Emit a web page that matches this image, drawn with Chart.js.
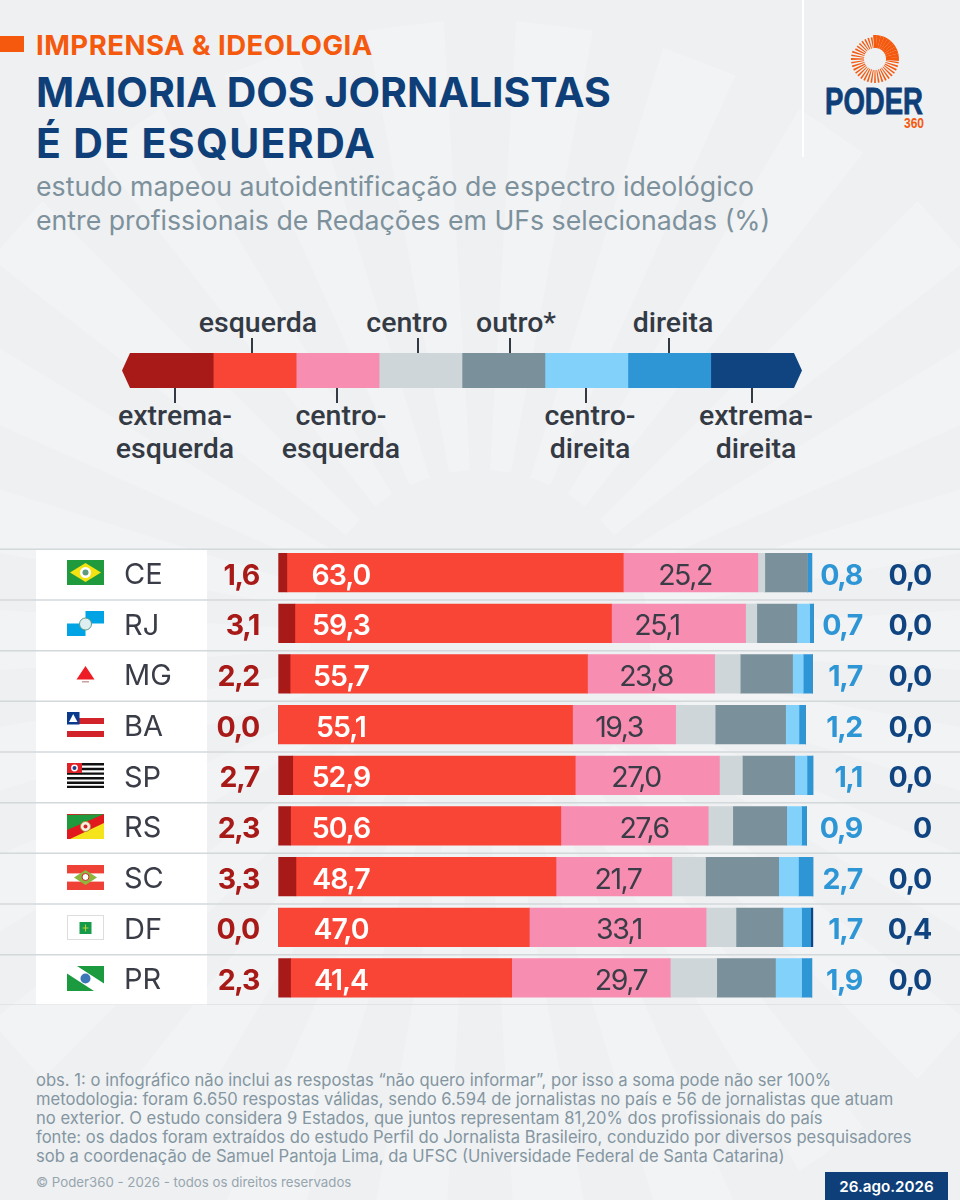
<!DOCTYPE html>
<html lang="pt-BR">
<head>
<meta charset="utf-8">
<title>Maioria dos jornalistas é de esquerda</title>
<script src="https://cdn.jsdelivr.net/npm/chart.js@4"></script>
<style>
  html, body { margin: 0; padding: 0; }
  body { width: 960px; height: 1200px; position: relative; overflow: hidden; background: #eef0f2; font-family: Inter, sans-serif; }
  .abs { position: absolute; white-space: nowrap; }
  #sun { position: absolute; left: 0; top: 0; }
  #tab { position: absolute; left: 0; top: 36px; width: 24px; height: 16px; background: #f4590e; }
  #kicker { left: 36px; top: 28px; font-size: 27.5px; font-weight: 700; letter-spacing: .5px; color: #f4590e; line-height: 34px; }
  h1 { position: absolute; left: 36px; top: 67px; margin: 0; font-size: 41px; line-height: 51px; font-weight: 700; color: #0f3f78; white-space: nowrap; }
  h1 span { letter-spacing: 1.35px; }
  #sub { left: 36px; top: 169px; font-size: 26.7px; line-height: 34px; color: #7d919c; }
  #rule { position: absolute; left: 802px; top: 0; width: 2px; height: 157px; background: #fff; }
  #logo { position: absolute; left: 815px; top: 30px; }
  #legendChart { position: absolute; left: 122px; top: 353px; width: 680px; height: 35px; clip-path: polygon(8px 0, 672px 0, 680px 50%, 672px 100%, 8px 100%, 0 50%); }
  .lg { position: absolute; transform: translateX(-50%); text-align: center; font-family: Roboto, sans-serif; font-weight: 500; font-size: 28.5px; line-height: 33px; color: #343a44; white-space: nowrap; }
  .tick { position: absolute; width: 2px; height: 15px; background: #343a44; }
  #barWrap { position: absolute; left: 0; top: 547px; width: 960px; height: 458px; }
  .flag { position: absolute; left: 67px; width: 37px; height: 25px; }
  #notes { left: 36px; top: 1071px; font-size: 16.6px; line-height: 19px; color: #8496a1; }
  #copy { left: 36px; top: 1174px; font-size: 13.25px; line-height: 16px; color: #97a5ae; }
  #date { position: absolute; left: 825px; top: 1172px; width: 123px; height: 28px; background: #0f3f78; color: #fff; font-size: 15.2px; font-weight: 600; line-height: 30px; text-align: center; }
</style>
</head>
<body>
<svg id="sun" width="960" height="1200"></svg>
<div id="tab"></div>
<div id="kicker" class="abs">IMPRENSA &amp; IDEOLOGIA</div>
<h1>MAIORIA DOS JORNALISTAS<br><span>É DE ESQUERDA</span></h1>
<div id="sub" class="abs">estudo mapeou autoidentificação de espectro ideológico<br>entre profissionais de Redações em UFs selecionadas (%)</div>
<div id="rule"></div>
<svg id="logo" width="120" height="104"></svg>

<canvas id="legendChart" width="680" height="35"></canvas>
<div id="legendText"></div>

<div id="barWrap"><canvas id="barChart"></canvas></div>
<div id="flags"></div>

<div id="notes" class="abs">obs. 1: o infográfico não inclui as respostas “não quero informar”, por isso a soma pode não ser 100%<br>metodologia: foram 6.650 respostas válidas, sendo 6.594 de jornalistas no país e 56 de jornalistas que atuam<br>no exterior. O estudo considera 9 Estados, que juntos representam 81,20% dos profissionais do país<br>fonte: os dados foram extraídos do estudo Perfil do Jornalista Brasileiro, conduzido por diversos pesquisadores<br>sob a coordenação de Samuel Pantoja Lima, da UFSC (Universidade Federal de Santa Catarina)</div>
<div id="copy" class="abs">© Poder360 - 2026 - todos os direitos reservados</div>
<div id="date">26.ago.2026</div>

<script>
const states = ['CE', 'RJ', 'MG', 'BA', 'SP', 'RS', 'SC', 'DF', 'PR']
const extremaEsquerda = [1.6, 3.1, 2.2, 0, 2.7, 2.3, 3.3, 0, 2.3]
const esquerda = [63.0, 59.3, 55.7, 55.1, 52.9, 50.6, 48.7, 47.0, 41.4]
const centroEsquerda = [25.2, 25.1, 23.8, 19.3, 27.0, 27.6, 21.7, 33.1, 29.7]
const centro = [1.3, 2.1, 4.8, 7.4, 4.3, 4.6, 6.3, 5.6, 8.7]
const outro = [8.0, 7.5, 9.8, 13.2, 9.8, 10.1, 13.7, 8.8, 11.0]
const centroDireita = [0, 2.4, 2.0, 2.5, 2.3, 2.8, 3.7, 3.5, 4.9]
const direita = [0.8, 0.7, 1.7, 1.2, 1.1, 0.9, 2.7, 1.7, 1.9]
const extremaDireita = [0, 0, 0, 0, 0, 0, 0, 0.4, 0]
const extremaDireitaLabels = ['0,0', '0,0', '0,0', '0,0', '0,0', '0', '0,0', '0,4', '0,0']

const spectrum = ['extrema-esquerda', 'esquerda', 'centro-esquerda', 'centro', 'outro*', 'centro-direita', 'direita', 'extrema-direita']
const spectrumSpan = [1.1, 1, 1, 1, 1, 1, 1, 1.1]
const colors = ['#a81a17', '#f94536', '#f78db0', '#cfd6d9', '#7a919c', '#82d1fb', '#2f96d6', '#0f4480']

const fmt = v => v.toFixed(1).replace('.', ',')

// sunburst watermark behind everything
const svgNS = 'http://www.w3.org/2000/svg'
const wedge = (cx, cy, r0, r1, a, w, fill) => {
  const p = document.createElementNS(svgNS, 'path')
  const pt = (r, t) => (cx + r * Math.cos(t)).toFixed(1) + ' ' + (cy + r * Math.sin(t)).toFixed(1)
  p.setAttribute('d', 'M' + pt(r0, a - w / 2) + 'L' + pt(r1, a - w / 2) + 'L' + pt(r1, a + w / 2) + 'L' + pt(r0, a + w / 2) + 'Z')
  p.setAttribute('fill', fill)
  return p
}
const sun = document.getElementById('sun')
for (let i = 0; i < 26; i++) {
  const a = i / 26 * Math.PI * 2
  sun.appendChild(wedge(480, 640, 170, 620, a, 0.125, 'rgba(255,255,255,.2)'))
}

// logo
const logo = document.getElementById('logo')
for (let i = 0; i < 40; i++) {
  const a = i / 40 * Math.PI * 2 - Math.PI / 2
  const full = i < 11
  const r1 = i >= 33 ? 22 : 24
  logo.appendChild(wedge(60, 29, 11, r1, a, full ? 0.16 : 0.075, '#f4590e'))
}
logo.insertAdjacentHTML('beforeend',
  '<text x="10" y="84" textLength="98" lengthAdjust="spacingAndGlyphs" font-family="Liberation Sans Narrow, Liberation Sans" font-weight="700" font-size="36" fill="#0f3f78" stroke="#0f3f78" stroke-width=".8">PODER</text>' +
  '<text x="89" y="98" textLength="20" lengthAdjust="spacingAndGlyphs" font-family="Liberation Sans Narrow, Liberation Sans" font-weight="700" font-size="14" fill="#f4590e">360</text>')

// legend labels
const legendItems = [
  ['esquerda', 258, 306, 252, 338],
  ['centro', 407, 306, 418, 338],
  ['outro*', 516, 306, 510, 338],
  ['direita', 673, 306, 669, 338],
  ['extrema-<br>esquerda', 175, 399, 175, 388],
  ['centro-<br>esquerda', 341, 399, 337, 388],
  ['centro-<br>direita', 590, 399, 586, 388],
  ['extrema-<br>direita', 756, 399, 752, 388]
]
document.getElementById('legendText').innerHTML = legendItems.map(([t, x, y, tx, ty]) =>
  `<div class="lg" style="left:${x}px;top:${y}px">${t}</div><div class="tick" style="left:${tx - 1}px;top:${ty}px"></div>`).join('')

new Chart(document.getElementById('legendChart'), { // eslint-disable-line
  type: 'bar',
  data: {
    labels: ['espectro'],
    datasets: spectrum.map((name, i) => ({ label: name, data: [spectrumSpan[i]], backgroundColor: colors[i], barPercentage: 1, categoryPercentage: 1 }))
  },
  options: {
    indexAxis: 'y',
    responsive: false,
    animation: false,
    events: [],
    plugins: { legend: { display: false }, tooltip: { enabled: false } },
    scales: {
      x: { display: false, stacked: true, min: 0, max: 8.2 },
      y: { display: false, stacked: true }
    }
  }
})

// flags
const flagSvg = {
  CE: '<rect width="37" height="25" fill="#1f9a3c"/><path d="M3 12.5 18.5 3 34 12.5 18.5 22Z" fill="#f4e312"/><circle cx="18.5" cy="12.5" r="5.5" fill="#fff"/><circle cx="18.5" cy="12.5" r="3" fill="#5f9a7c"/>',
  RJ: '<rect width="37" height="25" fill="#fff"/><rect x="18.5" width="18.5" height="12.5" fill="#00a4e4"/><rect y="12.5" width="18.5" height="12.5" fill="#00a4e4"/><circle cx="18.5" cy="13" r="6" fill="#dfeef0" stroke="#5a9a88"/>',
  MG: '<rect width="37" height="25" fill="#fff"/><path d="M18.5 4 27.5 17.5H9.5Z" fill="#ee1c25"/><rect x="15" y="19" width="7" height="1.5" fill="#c9a0a0"/>',
  BA: '<rect width="37" height="25" fill="#fff"/><rect y="6" width="37" height="6" fill="#d2232a"/><rect y="19" width="37" height="6" fill="#d2232a"/><rect width="12.5" height="12.5" fill="#0a3a8c"/><path d="M6.2 2 10.5 10H2Z" fill="#fff"/>',
  SP: '<rect width="37" height="25" fill="#fff"/><path d="M0 1.3H37M0 6H37M0 10.6H37M0 15.2H37M0 19.8H37M0 24H37" stroke="#111" stroke-width="2.4"/><rect width="15" height="10" fill="#e02128"/><circle cx="7.5" cy="5" r="3.4" fill="#fff"/><circle cx="7.5" cy="5" r="2" fill="#1c3f94"/>',
  RS: '<rect width="37" height="25" fill="#e2181f"/><path d="M0 1 37 0 0 16Z" fill="#1f9a3c"/><path d="M37 9V25H3Z" fill="#f5e31c"/><circle cx="18.5" cy="12.5" r="5" fill="#f5f0e0" stroke="#b3893a"/><circle cx="18.5" cy="12.5" r="2" fill="#d2232a"/>',
  SC: '<rect width="37" height="25" fill="#fff"/><rect width="37" height="8.4" fill="#ef4136"/><rect y="16.6" width="37" height="8.4" fill="#ef4136"/><path d="M7 12.5 18.5 5 30 12.5 18.5 20Z" fill="#8cb63c"/><circle cx="18.5" cy="12" r="3.5" fill="#fff" stroke="#d2232a"/>',
  DF: '<rect x=".5" y=".5" width="36" height="24" fill="#fff" stroke="#ddd"/><rect x="12.5" y="7" width="12" height="12" fill="#169b4a"/><path d="M18.5 9.5V16.5M15.5 13H21.5" stroke="#e8d73a" stroke-width=".8"/>',
  PR: '<rect width="37" height="25" fill="#fff"/><path d="M10 0H37V17.5Z" fill="#1b9a3f"/><path d="M0 7.5 27 25H0Z" fill="#1b9a3f"/><circle cx="18.5" cy="12.5" r="5" fill="#3c78b8"/>'
}
document.getElementById('flags').innerHTML = states.map((s, i) =>
  `<svg class="flag" style="top:${(560.3 + i * 50.7).toFixed(1)}px" viewBox="0 0 37 25">${flagSvg[s]}</svg>`).join('')

// row panels and separators, tied to the y scale
const rowBackdrop = {
  id: 'rowBackdrop',
  beforeDraw (chart) {
    const { ctx, scales: { y } } = chart
    const step = y.getPixelForValue(1) - y.getPixelForValue(0)
    ctx.save()
    ctx.fillStyle = '#fff'
    ctx.fillRect(36, y.getPixelForValue(0) - step / 2 + 2, 171, step * states.length)
    ctx.strokeStyle = '#d3d8db'
    ctx.lineWidth = 1.5
    for (let i = 0; i <= states.length; i++) {
      const yy = y.getPixelForValue(i) - step / 2 + 2
      ctx.beginPath()
      ctx.moveTo(0, yy)
      ctx.lineTo(960, yy)
      ctx.stroke()
    }
    ctx.restore()
  }
}

// x centre of the pink labels, which do not sit on the middle of their segment
const pinkLabelX = [685, 657, 646, 619, 636, 644, 618, 619, 621]

const valueLabels = {
  id: 'valueLabels',
  afterDatasetsDraw (chart) {
    const { ctx, scales: { y } } = chart
    ctx.save()
    ctx.textBaseline = 'middle'
    states.forEach((s, i) => {
      const yy = y.getPixelForValue(i) + 3.5
      ctx.letterSpacing = '0px'
      ctx.font = '400 29px Inter'
      ctx.textAlign = 'left'
      ctx.fillStyle = '#3a3d47'
      ctx.fillText(s, 124, yy - 1)
      ctx.letterSpacing = '-1.3px'
      ctx.font = '700 28.5px Inter'
      ctx.textAlign = 'right'
      ctx.fillStyle = colors[0]
      ctx.fillText(fmt(extremaEsquerda[i]), 259, yy)
      ctx.fillStyle = colors[6]
      ctx.fillText(fmt(direita[i]), 862, yy)
      ctx.fillStyle = colors[7]
      ctx.fillText(extremaDireitaLabels[i], 931, yy)
      ctx.textAlign = 'center'
      ctx.fillStyle = '#fff'
      ctx.letterSpacing = '-1px'
      ctx.font = '600 28.5px Inter'
      ctx.fillText(fmt(esquerda[i]), 341, yy)
      ctx.letterSpacing = '-1.5px'
      ctx.font = '400 28.5px Inter'
      ctx.fillStyle = '#3a3d47'
      ctx.fillText(fmt(centroEsquerda[i]), pinkLabelX[i], yy)
    })
    ctx.restore()
  }
}

const seriesValues = [extremaEsquerda, esquerda, centroEsquerda, centro, outro, centroDireita, direita, extremaDireita]

new Chart(document.getElementById('barChart'), { // eslint-disable-line
  type: 'bar',
  data: {
    labels: states,
    datasets: spectrum.map((name, i) => ({
      label: name,
      data: seriesValues[i],
      backgroundColor: colors[i],
      borderWidth: 0,
      barThickness: 38.6
    }))
  },
  options: {
    indexAxis: 'y',
    responsive: true,
    maintainAspectRatio: false,
    animation: false,
    events: [],
    layout: { autoPadding: false, padding: { left: 278.3, right: 137, top: 0.3, bottom: 1.7 } },
    plugins: { legend: { display: false }, tooltip: { enabled: false } },
    scales: {
      x: { display: false, stacked: true, min: 0, max: 102 },
      y: { display: false, stacked: true }
    }
  },
  plugins: [rowBackdrop, valueLabels]
})
</script>
</body>
</html>
